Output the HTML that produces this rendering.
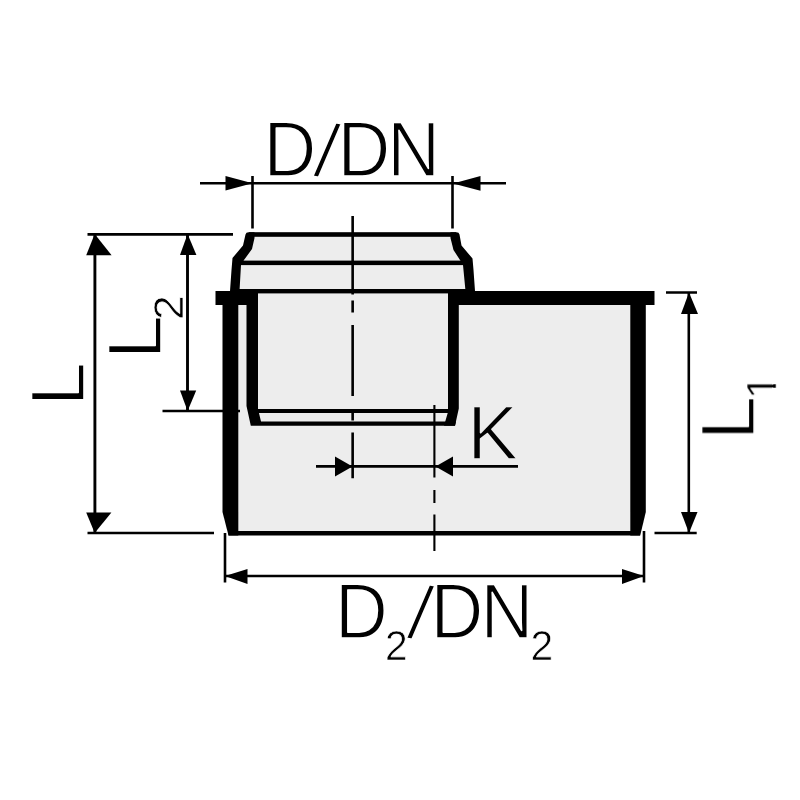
<!DOCTYPE html>
<html lang="en">
<head>
<meta charset="utf-8">
<title>Dimension drawing</title>
<style>
html,body{margin:0;padding:0;background:#fff;}
body{width:800px;height:800px;overflow:hidden;}
svg{display:block;}
text{font-family:"Liberation Sans",sans-serif;fill:#000;stroke:#fff;paint-order:fill stroke;stroke-linejoin:round;}
.lbl{font-size:77.0px;stroke-width:1.6px;}
.lbl.k{font-size:76.2px;}
.lbl .sub{font-size:43px;stroke-width:0.7px;}
text.g{stroke:#ededed;}
.ln{stroke:#000;stroke-width:2.6;fill:none;}
.bk{fill:#000;}
</style>
</head>
<body>
<svg width="800" height="800" viewBox="0 0 800 800">
<rect width="800" height="800" fill="#fff"/>

<!-- grey interior -->
<polygon fill="#ededed" points="250,234 456,234 460,247 471,259 473,291 640,300 640,533 228,533 228,300 235,291 236,259 246,247"/>

<!-- body outline (black) -->
<g class="bk">
<polygon points="222.5,300 238.3,300 238.3,535.5 228.5,535.5 222.5,512"/>
<polygon points="630.3,300 645.8,300 645.8,512 640.2,535.5 630.3,535.5"/>
<rect x="228.5" y="531" width="411.5" height="4.5"/>
<rect x="448" y="291" width="206.5" height="14"/>
<rect x="215.5" y="291" width="42.5" height="14"/>
<polygon points="246.5,300 258,300 258,409 261,421.5 456,421.5 455,425.8 250.8,425.8 246.5,406"/>
<polygon points="448,300 458.8,300 458.8,408.5 455,425.8 444,425.8 448,412"/>
<rect x="257" y="409" width="192" height="4"/>
<rect x="249" y="232.2" width="207" height="4.6"/>
<rect x="240" y="260.6" width="225" height="4.5"/>
<rect x="239" y="289" width="227.5" height="4.4"/>
<path d="M248.5,232.2 L254.5,232.2 L254.5,238 L252,249 L244,260 L241,265 L239.5,291 L230,291 L231.5,270 L232.5,258 L243,245.5 L245.5,234.5 Q246,232.2 248.5,232.2 Z"/>
<path d="M456.5,232.2 L450.5,232.2 L450.5,238 L453.5,250 L460,260 L463,265 L465.5,291 L475,291 L473.5,270 L472.5,258.5 L461.5,245.5 L459.5,234.5 Q459,232.2 456.5,232.2 Z"/>
</g>

<!-- centre lines -->
<g class="ln">
<path d="M352.65,216 V294.5 M352.65,300.5 V312.5 M352.65,325 V396 M352.65,412.5 V420.5 M352.65,432.5 V478.2"/>
<path d="M434.4,405 V477.5 M434.4,490 V503 M434.4,514.5 V551" stroke-width="2.1"/>
</g>

<!-- dimension lines -->
<g class="ln">
<path d="M200,183.25 H506 M252.5,176 V228.5 M452.5,176 V228.5"/>
<path d="M94.9,234.4 V532.5" stroke-width="2.9"/><path d="M87.5,234.4 H233 M87.5,533 H214"/>
<path d="M187.5,234.4 V410.5" stroke-width="2.9"/><path d="M162.5,411 H240"/>
<path d="M688.8,293 V532.5 M666,292.5 H697 M654.5,533 H696.7"/>
<path d="M316,466.4 H518"/>
<path d="M225,576 H644 M225,533 V582.5 M644,531 V582.5"/>
</g>

<!-- arrow heads -->
<g class="bk">
<polygon points="252.5,183.3 225.5,176.1 225.5,190.6"/>
<polygon points="453,183.4 480.5,176.1 480.5,190.8"/>
<polygon points="94.7,234 86.2,255.3 111.6,255.3"/>
<polygon points="94.7,533 86.2,512.5 111.4,512.5"/>
<polygon points="187.6,234 180,255 196.4,255"/>
<polygon points="187.6,411 180,390.5 196.2,390.5"/>
<polygon points="689,292.5 681,314 698,314"/>
<polygon points="689,533 681,512 697.5,512"/>
<polygon points="352.5,466.4 335,456.4 335,476.4"/>
<polygon points="435.5,466.4 453,456.4 453,476.4"/>
<polygon points="225,576 247.5,569 247.5,584"/>
<polygon points="644,576 622,569 622,584"/>
</g>

<!-- labels -->
<g opacity="0.999">
<text class="lbl" transform="translate(0,175.6) scale(0.95,1)"><tspan x="277.37 329.47 355.26 407.68" y="0" rotate="0 9 0 0">D/DN</tspan></text>
<text class="lbl g k" transform="translate(0,459.3) scale(1,1)"><tspan x="467.3" y="0">K</tspan></text>
<text class="lbl" transform="translate(0,637.6) scale(0.95,1)"><tspan x="352.63" y="0">D</tspan><tspan class="sub" x="405.26" y="22.6">2</tspan><tspan x="427.89 453.16 505.89" y="0" rotate="9 0 0">/DN</tspan><tspan class="sub" x="558.42" y="22.6">2</tspan></text>
<text class="lbl" transform="translate(83.9,406.5) rotate(-90) scale(1.04,0.98)"><tspan x="0" y="0">L</tspan></text>
<text class="lbl" transform="translate(160.5,359.4) rotate(-90) scale(1.04,0.98)"><tspan x="0" y="0">L</tspan><tspan class="sub" x="37.98" y="22.6">2</tspan></text>
<text class="lbl" transform="translate(753.7,440.3) rotate(-90) scale(1.04,0.98)"><tspan x="0" y="0">L</tspan><tspan class="sub" x="39.42" y="22.6">1</tspan></text>
</g>
<!-- trim serif foot of subscript one -->
<path d="M772,375 h7 v9.3 h-7 Z M772,387.7 h7 v9.3 h-7 Z" fill="#fff"/>
</svg>
</body>
</html>
